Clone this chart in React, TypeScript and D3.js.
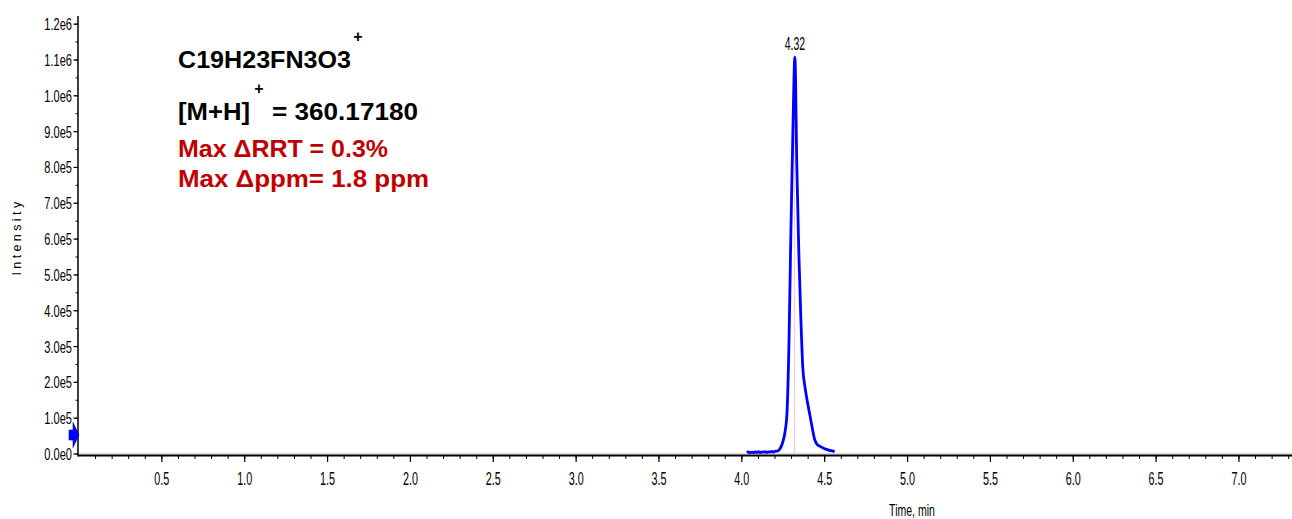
import React from 'react';
import * as d3 from 'd3';

// extracted ion chromatogram, time in min, intensity in cps
const TIME = [
  4.03, 4.04, 4.05, 4.06, 4.07, 4.08, 4.09, 4.1, 4.11, 4.12, 4.13, 4.14, 4.15, 4.16,
  4.17, 4.18, 4.19, 4.2, 4.21, 4.22, 4.23, 4.245,
  4.26, 4.272, 4.284, 4.296, 4.308, 4.32, 4.332, 4.344, 4.356, 4.368, 4.38,
  4.392, 4.404, 4.416, 4.428, 4.44, 4.452, 4.47, 4.49, 4.51, 4.53, 4.55, 4.56,
];
const INTENSITY = [
  4000, 6000, 3500, 5500, 4000, 6000, 4500, 6500, 4000, 6000, 5000, 6500, 4500, 6000,
  5500, 7000, 5500, 7500, 8000, 9500, 15000, 30000,
  60000, 110000, 300000, 620000, 900000, 1108000, 800000, 560000, 380000, 240000, 190000,
  155000, 125000, 95000, 65000, 40000, 28000, 22000, 17000, 13000, 10000, 8000, 6000,
];

const Y_TICK_VALUES = [0, 1e5, 2e5, 3e5, 4e5, 5e5, 6e5, 7e5, 8e5, 9e5, 1e6, 1.1e6, 1.2e6];
const Y_TICK_LABELS = ['0.0e0', '1.0e5', '2.0e5', '3.0e5', '4.0e5', '5.0e5', '6.0e5', '7.0e5', '8.0e5', '9.0e5', '1.0e6', '1.1e6', '1.2e6'];
const X_TICK_VALUES = [0.5, 1, 1.5, 2, 2.5, 3, 3.5, 4, 4.5, 5, 5.5, 6, 6.5, 7];
const X_TICK_LABELS = ['0.5', '1.0', '1.5', '2.0', '2.5', '3.0', '3.5', '4.0', '4.5', '5.0', '5.5', '6.0', '6.5', '7.0'];

const PEAK_TIME = 4.32;
const PEAK_LABEL = '4.32';
const MARKER_LEVEL = 53000;

const W = 1292;
const H = 519;
const FONT = 'Liberation Sans, Arial, sans-serif';

const Narrow = ({ x, y, size, sx, anchor = 'middle', children }: any) => (
  <g transform={`translate(${x},${y}) scale(${sx},1)`}>
    <text textAnchor={anchor} fontSize={size} fontFamily={FONT} fill="#000">{children}</text>
  </g>
);

export default function App() {
  const x = d3.scaleLinear().domain([0, 7.32]).range([79, 1292]);
  const y = d3.scaleLinear().domain([0, 1.22e6]).range([454, 17]);

  const line = d3.line<number>()
    .x((_, i) => x(TIME[i]))
    .y(d => y(d))
    .curve(d3.curveMonotoneX);

  const minorX = d3.range(1, 74).map(i => i / 10);
  const minorY = d3.range(0, 25).map(i => i * 5e4);

  const ax = 78;
  const ay = 455.5;
  const my = y(MARKER_LEVEL);

  return (
    <div style={{ position: 'fixed', left: 0, top: 0 }}>
      <svg width={W} height={H} style={{ display: 'block', background: '#fff' }}>
        {/* faint baseline trace */}
        <line x1={ax} x2={W} y1={y(0) - 0.5} y2={y(0) - 0.5} stroke="#dcdcdc" strokeWidth={1.5} />
        {/* retention marker */}
        <line x1={x(PEAK_TIME) - 0.5} x2={x(PEAK_TIME) - 0.5} y1={y(0)} y2={y(1e6)} stroke="#ffc0cb" strokeWidth={1} />

        <path d={line(INTENSITY) || ''} fill="none" stroke="#0000ff" strokeWidth={2.8} strokeLinejoin="round" />

        {/* y axis */}
        <line x1={ax} x2={ax} y1={16} y2={ay + 1} stroke="#000" strokeWidth={1.5} />
        {minorY.map(v => (
          <line key={'my' + v} x1={ax - 2.5} x2={ax} y1={y(v)} y2={y(v)} stroke="#000" strokeWidth={1} />
        ))}
        {Y_TICK_VALUES.map((v, i) => (
          <g key={'y' + v}>
            <line x1={ax - 4.5} x2={ax} y1={y(v)} y2={y(v)} stroke="#000" strokeWidth={1.2} />
            <Narrow x={72} y={y(v) + 6} size={17} sx={0.65} anchor="end">{Y_TICK_LABELS[i]}</Narrow>
          </g>
        ))}

        {/* x axis */}
        <line x1={ax} x2={W} y1={ay} y2={ay} stroke="#000" strokeWidth={2} />
        {minorX.map(t => (
          <line key={'mx' + t} x1={x(t)} x2={x(t)} y1={ay} y2={ay + 3.5} stroke="#000" strokeWidth={1} />
        ))}
        {X_TICK_VALUES.map((t, i) => (
          <g key={'x' + t}>
            <line x1={x(t)} x2={x(t)} y1={ay} y2={ay + 6.5} stroke="#000" strokeWidth={1.2} />
            <Narrow x={x(t)} y={485} size={18} sx={0.6}>{X_TICK_LABELS[i]}</Narrow>
          </g>
        ))}

        <Narrow x={912} y={516} size={17} sx={0.62}>Time, min</Narrow>
        <text
          transform="translate(21,237) rotate(-90)"
          textAnchor="middle"
          fontSize={12.5}
          fontFamily={FONT}
          letterSpacing={3.4}
          fill="#000"
        >Intensity</text>

        {/* peak label */}
        <Narrow x={x(PEAK_TIME)} y={50} size={19} sx={0.55}>{PEAK_LABEL}</Narrow>

        {/* marker arrow on y axis */}
        <path
          d={`M69,${my - 5}H73V${my - 12.5}L79,${my}L73,${my + 12.5}V${my + 5}H69Z`}
          fill="#0000ff"
          stroke="#0000cc"
          strokeWidth={0.6}
        />

        {/* annotation */}
        <g fontFamily={FONT} fontWeight="bold" fontSize={23}>
          <text x={178} y={68} textLength={173} lengthAdjust="spacingAndGlyphs" fill="#000">C19H23FN3O3</text>
          <text x={358} y={42} textAnchor="middle" fontSize={16} fill="#000">+</text>
          <text x={178} y={120} textLength={72} lengthAdjust="spacingAndGlyphs" fill="#000">[M+H]</text>
          <text x={259} y={94} textAnchor="middle" fontSize={16} fill="#000">+</text>
          <text x={272} y={120} textLength={146} lengthAdjust="spacingAndGlyphs" fill="#000">= 360.17180</text>
          <text x={178} y={157} textLength={210} lengthAdjust="spacingAndGlyphs" fill="#c00000">Max ΔRRT = 0.3%</text>
          <text x={178} y={187} textLength={251} lengthAdjust="spacingAndGlyphs" fill="#c00000">Max Δppm= 1.8 ppm</text>
        </g>
      </svg>
    </div>
  );
}
